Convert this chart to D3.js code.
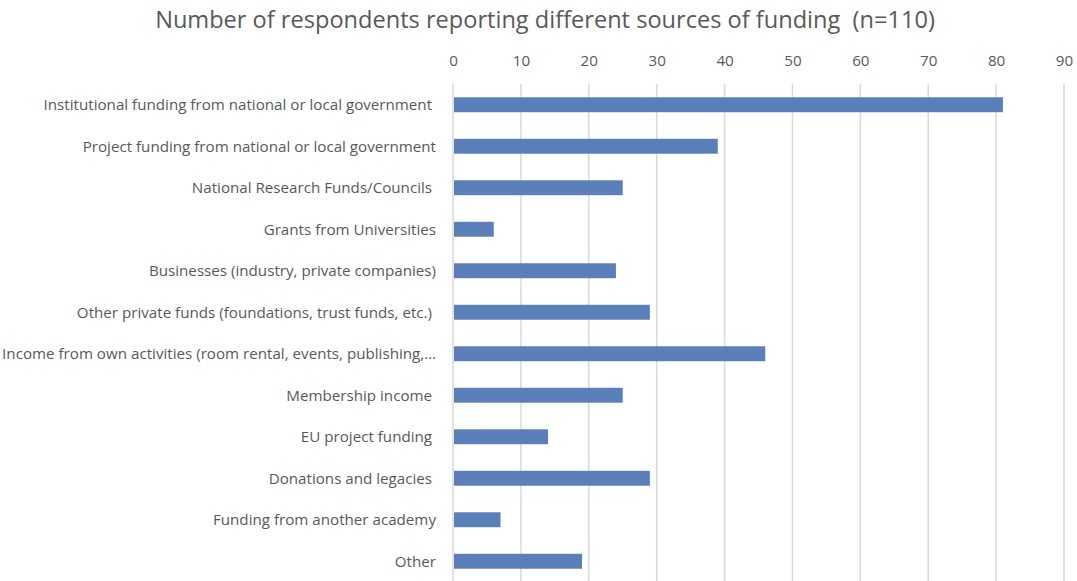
<!DOCTYPE html>
<html>
<head>
<meta charset="utf-8">
<script src="https://cdn.jsdelivr.net/npm/d3@7"></script>
<style>
  html, body { margin: 0; padding: 0; background: #fff; }
  svg { display: block; font-family: "Open Sans", Lato, sans-serif; }
  text { white-space: pre; }
</style>
</head>
<body>
<svg id="chart" width="1077" height="581"></svg>
<script>
// Funding sources, top to bottom
const categories = [
  "Institutional funding from national or local government ",
  "Project funding from national or local government",
  "National Research Funds/Councils ",
  "Grants from Universities",
  "Businesses (industry, private companies)",
  "Other private funds (foundations, trust funds, etc.) ",
  "Income from own activities (room rental, events, publishing,\u2026",
  "Membership income ",
  "EU project funding ",
  "Donations and legacies ",
  "Funding from another academy",
  "Other"
];
// Number of respondents per source
const respondents = [81, 39, 25, 6, 24, 29, 46, 25, 14, 29, 7, 19];
const xTicks = [0, 10, 20, 30, 40, 50, 60, 70, 80, 90];
const titleText = "Number of respondents reporting different sources of funding  (n=110)";

const W = 1077, H = 581;
const margin = { top: 84, right: 13, bottom: -1, left: 453 };
const textColor = "#595959";
const fontStack = "'Open Sans', Lato, sans-serif";

const svg = d3.select("#chart");

// Size a font so that a sample string spans a given width
function fitSize(sample, targetWidth, base) {
  const t = svg.append("text").style("font-size", base + "px").text(sample);
  const w = t.node().getComputedTextLength();
  t.remove();
  return base * targetWidth / w;
}
const labelSize = fitSize("Institutional funding from national or local government", 389, 14);
const titleSize = fitSize(titleText, 780, 22);

const x = d3.scaleLinear()
  .domain([0, 90])
  .range([margin.left, W - margin.right]);

const y = d3.scaleBand()
  .domain(categories)
  .range([margin.top, H - margin.bottom])
  .paddingInner(0.64)
  .paddingOuter(0.32);

// Title
svg.append("text")
  .attr("x", 545)
  .attr("y", 28)
  .attr("text-anchor", "middle")
  .attr("fill", textColor)
  .style("font-size", titleSize + "px")
  .text(titleText);

// Vertical gridlines
svg.append("g")
  .selectAll("line")
  .data(xTicks)
  .join("line")
  .attr("x1", d => x(d)).attr("x2", d => x(d))
  .attr("y1", margin.top).attr("y2", H)
  .attr("stroke", "#d9d9d9")
  .attr("stroke-width", 1.5);

// Top axis labels
const xAxis = d3.axisTop(x).tickValues(xTicks).tickSize(0).tickPadding(0);
const gx = svg.append("g")
  .attr("transform", "translate(0,66)")
  .call(xAxis);
gx.select(".domain").remove();
gx.selectAll("text")
  .attr("fill", textColor)
  .style("font-size", labelSize + "px")
  .style("font-family", fontStack);

// Bars
svg.append("g")
  .selectAll("rect")
  .data(respondents)
  .join("rect")
  .attr("x", x(0) + 1)
  .attr("y", (d, i) => y(categories[i]))
  .attr("width", d => x(d) - x(0) - 1)
  .attr("height", y.bandwidth())
  .attr("fill", "#5b7fb9");

// Category labels
svg.append("g")
  .selectAll("text")
  .data(categories)
  .join("text")
  .attr("x", 436)
  .attr("y", d => y(d) + y.bandwidth() / 2)
  .attr("dy", "0.35em")
  .attr("text-anchor", "end")
  .attr("fill", textColor)
  .style("font-size", labelSize + "px")
  .text(d => d);
</script>
</body>
</html>
